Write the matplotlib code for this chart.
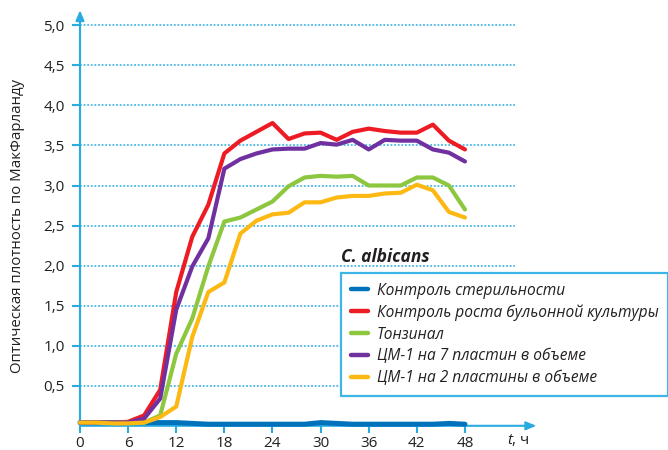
import matplotlib
matplotlib.use('Agg')
import matplotlib.pyplot as plt
import numpy as np

plt.rcParams['font.family'] = ['Open Sans', 'DejaVu Sans']

# time, hours (measurements every 2 h)
hours = list(range(0, 49, 2))

sterility = [0.04, 0.04, 0.04, 0.04, 0.04, 0.04, 0.04, 0.03, 0.02, 0.02, 0.02, 0.02, 0.02,
             0.02, 0.02, 0.04, 0.03, 0.02, 0.02, 0.02, 0.02, 0.02, 0.02, 0.03, 0.02]
growth = [0.04, 0.04, 0.04, 0.05, 0.13, 0.45, 1.67, 2.36, 2.76, 3.40, 3.56, 3.67, 3.78,
          3.58, 3.65, 3.66, 3.57, 3.67, 3.71, 3.68, 3.66, 3.66, 3.76, 3.56, 3.45]
tonsinal = [0.04, 0.04, 0.04, 0.04, 0.04, 0.13, 0.90, 1.34, 1.99, 2.55, 2.60, 2.70, 2.80,
            2.99, 3.10, 3.12, 3.11, 3.12, 3.00, 3.00, 3.00, 3.10, 3.10, 3.00, 2.70]
cm1_7 = [0.04, 0.04, 0.04, 0.04, 0.09, 0.34, 1.45, 1.99, 2.34, 3.21, 3.33, 3.40, 3.45,
         3.46, 3.46, 3.53, 3.51, 3.57, 3.45, 3.57, 3.56, 3.56, 3.45, 3.41, 3.30]
cm1_2 = [0.04, 0.04, 0.03, 0.03, 0.04, 0.11, 0.24, 1.11, 1.67, 1.79, 2.40, 2.56, 2.64,
         2.66, 2.79, 2.79, 2.85, 2.87, 2.87, 2.90, 2.91, 3.01, 2.94, 2.67, 2.60]

labels = ['Контроль стерильности', 'Контроль роста бульонной культуры', 'Тонзинал',
          'ЦМ-1 на 7 пластин в объеме', 'ЦМ-1 на 2 пластины в объеме']
colors = ['#0072bc', '#ed1c24', '#8dc63f', '#7030a0', '#fdb913']

yticks = [0.5, 1.0, 1.5, 2.0, 2.5, 3.0, 3.5, 4.0, 4.5, 5.0]
xticks = [0, 6, 12, 18, 24, 30, 36, 42, 48]

cyan = '#29abe2'
txt = '#231f20'

W, H = 668, 450
fig = plt.figure(figsize=(W / 100, H / 100), dpi=100)
# x: 0 h at 80 px, 8.02 px/h ; y: 0 at 425.8 px, 80.1 px/unit
xmax, ymax = 56.9, 5.19
ax = fig.add_axes([80 / W, (H - 425.8) / H, xmax * 8.02 / W, ymax * 80.1 / H])
ax.set_xlim(0, xmax)
ax.set_ylim(0, ymax)
for s in ax.spines.values():
    s.set_visible(False)

# dotted grid
for y in yticks:
    ax.plot([0, 54.2], [y, y], color=cyan, lw=1.3, ls=(0, (1, 1)), zorder=1, alpha=0.85)

# axes with arrows
ax.annotate('', xy=(xmax, 0), xytext=(0, 0),
            arrowprops=dict(arrowstyle='-|>,head_length=0.6,head_width=0.25', color=cyan, lw=1.5,
                            shrinkA=0, shrinkB=0), annotation_clip=False, zorder=2)
ax.annotate('', xy=(0, ymax), xytext=(0, 0),
            arrowprops=dict(arrowstyle='-|>,head_length=0.6,head_width=0.25', color=cyan, lw=1.5,
                            shrinkA=0, shrinkB=0), annotation_clip=False, zorder=2)

series = [sterility, growth, tonsinal, cm1_7, cm1_2]
widths = [3.6, 3.0, 3.0, 3.0, 3.0]
for vals, lab, c, w in zip(series, labels, colors, widths):
    ax.plot(hours, vals, color=c, lw=w, label=lab, solid_capstyle='round',
            solid_joinstyle='round', clip_on=False, zorder=3)

ax.set_xticks(xticks)
ax.set_xticklabels([str(x) for x in xticks])
ax.set_yticks(yticks)
ax.set_yticklabels([f'{y:.1f}'.replace('.', ',') for y in yticks])
ax.tick_params(axis='both', colors=cyan, labelcolor=txt, labelsize=11, width=1.5)
ax.tick_params(axis='y', length=6, pad=5)
ax.tick_params(axis='x', length=5, pad=2.5)

fig.text(18 / W, 1 - 226 / H, 'Оптическая плотность по МакФарланду', rotation=90,
         ha='center', va='center', fontsize=10.8, color=txt)
fig.text(512 / W, 1 - 441 / H, 't', style='italic', ha='right', va='center', fontsize=11, color=txt)
fig.text(512 / W, 1 - 441 / H, ', ч', ha='left', va='center', fontsize=11, color=txt)

fig.text(341 / W, 1 - 257 / H, 'C. albicans', style='italic', weight='bold',
         ha='left', va='center', fontsize=12.5, color=txt)

leg = ax.legend(loc='upper left', bbox_to_anchor=(341 / W, 1 - 273 / H),
                bbox_transform=fig.transFigure, borderaxespad=0, frameon=True, fancybox=False,
                prop=dict(style='italic', size=11.2), handlelength=1.1, handletextpad=0.6,
                labelspacing=0.37, borderpad=0.62)
frame = leg.get_frame()
frame.set_edgecolor('#3db5e6')
frame.set_linewidth(1.6)
frame.set_facecolor('white')
frame.set_alpha(1)
for t in leg.get_texts():
    t.set_color(txt)
for h in leg.legend_handles:
    h.set_linewidth(3.2)
    h.set_solid_capstyle('round')
leg.set_zorder(5)

fig.savefig('out.png', dpi=100)
